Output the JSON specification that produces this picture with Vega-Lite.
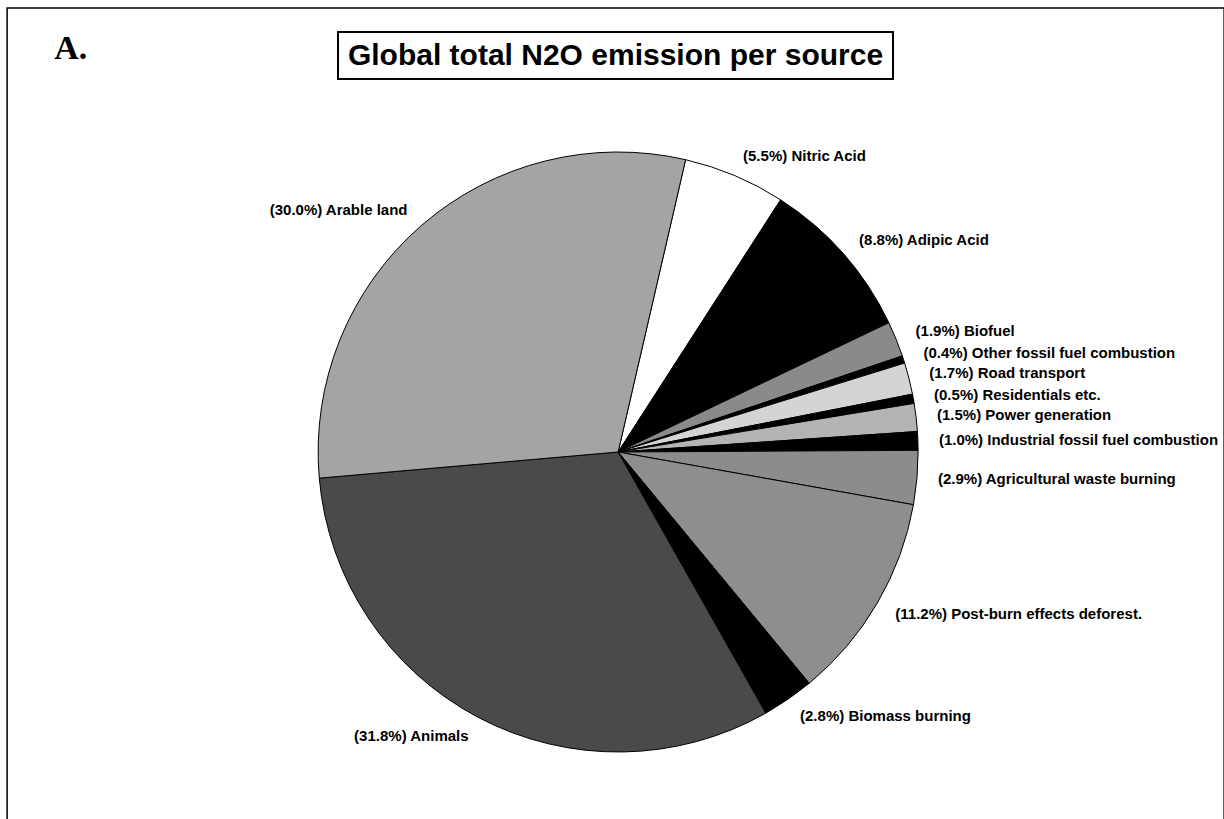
{
  "$schema": "https://vega.github.io/schema/vega-lite/v6.json",
  "background": "white",
  "padding": {"left": 6, "top": 7, "right": 0, "bottom": 0},
  "config": {"view": {"stroke": null}, "font": "Liberation Sans"},
  "datasets": {
    "n2o": [
      {"source": "Nitric Acid", "share": 5.5},
      {"source": "Adipic Acid", "share": 8.8},
      {"source": "Biofuel", "share": 1.9},
      {"source": "Other fossil fuel combustion", "share": 0.4},
      {"source": "Road transport", "share": 1.7},
      {"source": "Residentials etc.", "share": 0.5},
      {"source": "Power generation", "share": 1.5},
      {"source": "Industrial fossil fuel combustion", "share": 1.0},
      {"source": "Agricultural waste burning", "share": 2.9},
      {"source": "Post-burn effects deforest.", "share": 11.2},
      {"source": "Biomass burning", "share": 2.8},
      {"source": "Animals", "share": 31.8},
      {"source": "Arable land", "share": 30.0}
    ]
  },
  "columns": 1,
  "align": {"row": "none", "column": "all"},
  "spacing": -73,
  "center": true,
  "concat": [
    {
      "width": 555,
      "height": 47,
      "view": {"stroke": "black", "strokeWidth": 2},
      "data": {"values": [{"heading": "Global total N2O emission per source"}]},
      "mark": {"type": "text", "font": "Liberation Sans", "fontWeight": "bold", "fontSize": 30, "align": "center", "baseline": "middle", "color": "black"},
      "encoding": {"text": {"field": "heading", "type": "nominal"}}
    },
    {
      "width": 1217,
      "height": 888,
      "view": {"stroke": "black", "strokeWidth": 1.5},
      "title": {"text": "A.", "anchor": "start", "font": "Liberation Serif", "fontSize": 34, "fontWeight": "bold", "color": "black", "offset": -85, "baseline": "alphabetic", "dx": 47},
      "data": {"name": "n2o"},
      "transform": [
        {"window": [{"op": "row_number", "as": "slice_order"}]},
        {"calculate": "'(' + format(datum.share, '.1f') + '%) ' + datum.source", "as": "caption"}
      ],
      "encoding": {
        "theta": {"field": "share", "type": "quantitative", "stack": true, "scale": {"range": [0.2269, 6.5101]}},
        "order": {"field": "slice_order", "type": "quantitative"}
      },
      "layer": [
        {
          "mark": {"type": "arc", "outerRadius": 300, "stroke": "black", "strokeWidth": 1, "xOffset": 2.5},
          "encoding": {
            "color": {
              "field": "source",
              "type": "nominal",
              "legend": null,
              "scale": {
                "domain": ["Nitric Acid", "Adipic Acid", "Biofuel", "Other fossil fuel combustion", "Road transport", "Residentials etc.", "Power generation", "Industrial fossil fuel combustion", "Agricultural waste burning", "Post-burn effects deforest.", "Biomass burning", "Animals", "Arable land"],
                "range": ["#ffffff", "#000000", "#8a8a8a", "#000000", "#d4d4d4", "#000000", "#b4b4b4", "#000000", "#8c8c8c", "#8e8e8e", "#000000", "#4a4a4a", "#a4a4a4"]
              }
            }
          }
        },
        {
          "mark": {"type": "text", "radius": 321, "align": "left", "baseline": "middle", "fontSize": 15, "fontWeight": "bold", "color": "black", "xOffset": 2.5},
          "encoding": {
            "detail": {"field": "source", "type": "nominal"},
            "text": {"condition": {"test": "datum.share_start < 38", "field": "caption", "type": "nominal"}, "value": ""}
          }
        },
        {
          "mark": {"type": "text", "radius": 321, "align": "right", "baseline": "middle", "fontSize": 15, "fontWeight": "bold", "color": "black", "xOffset": 2.5},
          "encoding": {
            "detail": {"field": "source", "type": "nominal"},
            "text": {"condition": {"test": "datum.share_start >= 38", "field": "caption", "type": "nominal"}, "value": ""}
          }
        }
      ]
    }
  ]
}
